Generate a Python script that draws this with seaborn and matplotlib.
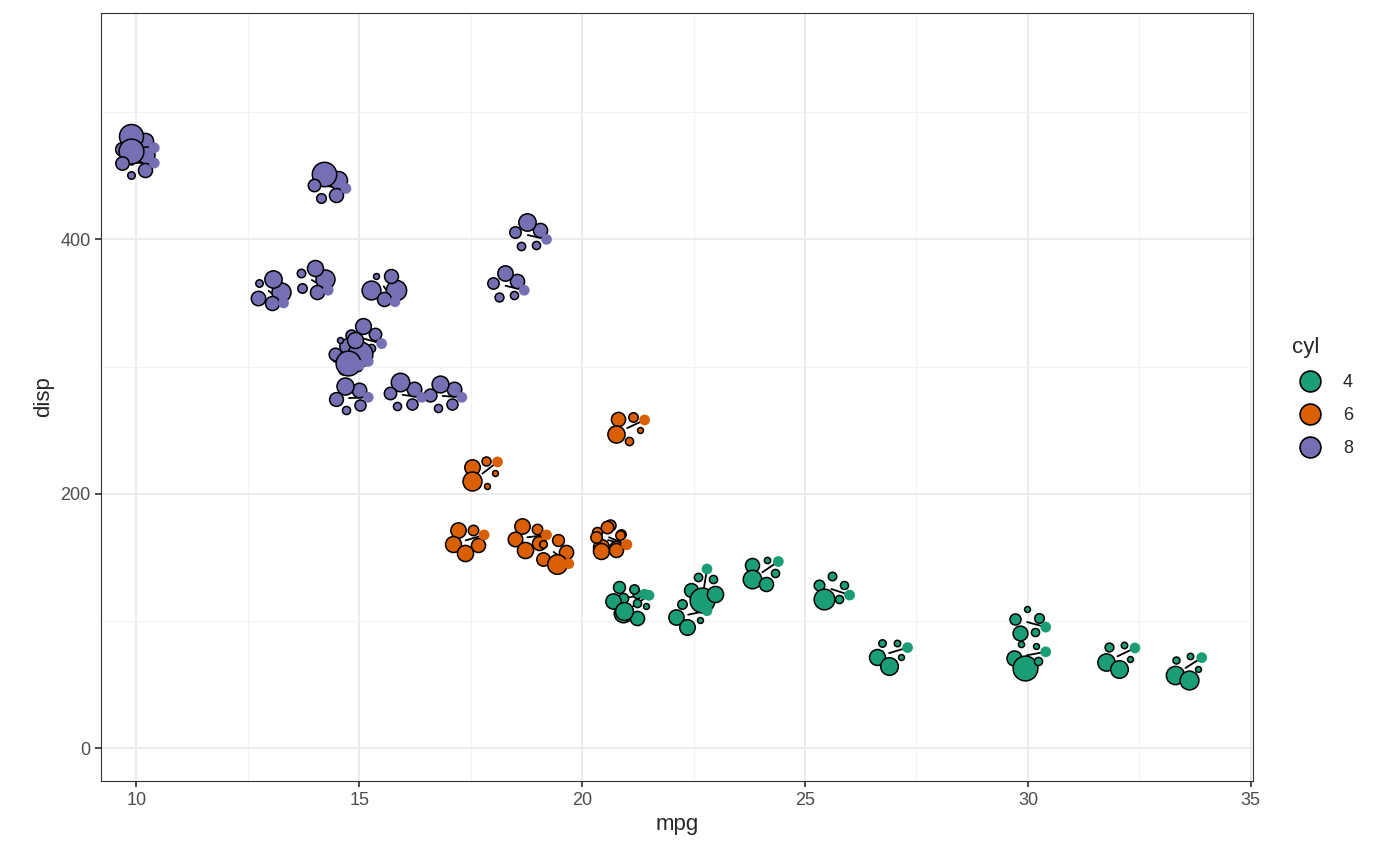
import numpy as np
import pandas as pd
import matplotlib.pyplot as plt
import seaborn as sns
from matplotlib.lines import Line2D

# mtcars values
mpg = [21, 21, 22.8, 21.4, 18.7, 18.1, 14.3, 24.4, 22.8, 19.2, 17.8, 16.4, 17.3, 15.2, 10.4, 10.4,
       14.7, 32.4, 30.4, 33.9, 21.5, 15.5, 15.2, 13.3, 19.2, 27.3, 26, 30.4, 15.8, 19.7, 15, 21.4]
cyl = [6, 6, 4, 6, 8, 6, 8, 4, 4, 6, 6, 8, 8, 8, 8, 8, 8, 4, 4, 4, 4, 8, 8, 8, 8, 4, 4, 4, 8, 6, 8, 4]
disp = [160, 160, 108, 258, 360, 225, 360, 146.7, 140.8, 167.6, 167.6, 275.8, 275.8, 275.8, 472, 460,
        440, 78.7, 75.7, 71.1, 120.1, 318, 304, 350, 400, 79, 120.3, 95.1, 351, 145, 301, 121]
hp = [110, 110, 93, 110, 175, 105, 245, 62, 95, 123, 123, 180, 180, 180, 205, 215, 230, 66, 52, 65,
      97, 150, 150, 245, 175, 66, 91, 113, 264, 175, 335, 109]
wt = [2.62, 2.875, 2.32, 3.215, 3.44, 3.46, 3.57, 3.19, 3.15, 3.44, 3.44, 4.07, 3.73, 3.78, 5.25, 5.424,
      5.345, 2.2, 1.615, 1.835, 2.465, 3.52, 3.435, 3.84, 3.845, 1.935, 2.14, 1.513, 3.17, 2.77, 3.57, 2.78]
qsec = [16.46, 17.02, 18.61, 19.44, 17.02, 20.22, 15.84, 20, 22.9, 18.3, 18.9, 17.4, 17.6, 18, 17.98, 17.82,
        17.42, 19.47, 18.52, 19.9, 20.01, 16.87, 17.3, 15.41, 17.05, 18.9, 16.7, 16.9, 14.5, 15.5, 14.6, 18.6]
drat = [3.9, 3.9, 3.85, 3.08, 3.15, 2.76, 3.21, 3.69, 3.92, 3.92, 3.92, 3.07, 3.07, 3.07, 2.93, 3, 3.23,
        4.08, 4.93, 4.22, 3.7, 2.76, 3.15, 3.73, 3.08, 4.08, 4.43, 3.77, 4.22, 3.62, 3.54, 4.11]
carb = [4, 4, 1, 1, 2, 1, 4, 2, 2, 4, 4, 3, 3, 3, 4, 4, 4, 1, 2, 1, 1, 2, 2, 4, 2, 1, 2, 2, 4, 6, 8, 2]

palette = {4: '#1B9E77', 6: '#D95F02', 8: '#7570B3'}

df = pd.DataFrame({'mpg': mpg, 'disp': disp, 'cyl': cyl, 'hp': hp, 'wt': wt,
                   'qsec': qsec, 'drat': drat, 'carb': carb})

sns.set_theme(style='whitegrid')
plt.rcParams['font.family'] = ['Liberation Sans', 'DejaVu Sans']

fig, ax = plt.subplots(figsize=(14, 8.66), dpi=100)

# glyph geometry in data units (x: mpg, y: disp)
sx, sy = 0.36, 12.5
glyph_vars = ['hp', 'wt', 'qsec', 'drat', 'carb']
norm = {v: (df[v] - df[v].min()) / (df[v].max() - df[v].min()) for v in glyph_vars}

for i, row in df.iterrows():
    col = palette[row['cyl']]
    ang = np.pi * (0.7 + 0.75 * norm['qsec'][i])
    cx = row['mpg'] + 1.2 * sx * np.cos(ang)
    cy = row['disp'] + 1.2 * sy * np.sin(ang)
    ax.plot([row['mpg'], cx], [row['disp'], cy], color='black', lw=1.3, zorder=2)
    for k, v in enumerate(glyph_vars):
        a = ang + np.pi + 2 * np.pi * k / len(glyph_vars) + np.pi / 5
        px = cx + 0.8 * sx * np.cos(a)
        py = cy + 0.8 * sy * np.sin(a)
        s = 18 + 300 * norm[v][i] ** 1.5
        ax.scatter(px, py, s=s, color=col, edgecolor='black', linewidth=1.1, zorder=3)

sns.scatterplot(data=df, x='mpg', y='disp', hue='cyl', palette=palette, s=60,
                edgecolor='none', legend=False, ax=ax, zorder=4)

ax.set_xlim(9.2, 35.05)
ax.set_ylim(-26, 578)
ax.set_xticks([10, 15, 20, 25, 30, 35])
ax.set_yticks([0, 200, 400])
ax.set_xticks([12.5, 17.5, 22.5, 27.5, 32.5], minor=True)
ax.set_yticks([100, 300, 500], minor=True)
ax.grid(True, which='major', color='#EBEBEB', lw=1.4)
ax.grid(True, which='minor', color='#F2F2F2', lw=0.8)
for sp in ax.spines.values():
    sp.set_color('#333333')
    sp.set_linewidth(0.8)
ax.tick_params(axis='both', which='major', labelsize=13, colors='#4D4D4D', length=4,
               left=True, bottom=True, color='#333333')
ax.tick_params(which='minor', length=0)
ax.set_xlabel('mpg', fontsize=16)
ax.set_ylabel('disp', fontsize=16)

handles = [Line2D([], [], marker='o', ls='none', markersize=15, markerfacecolor=palette[c],
                  markeredgecolor='black', markeredgewidth=1.2) for c in [4, 6, 8]]
leg = ax.legend(handles, ['4', '6', '8'], title='cyl', loc='center left',
                bbox_to_anchor=(1.02, 0.5), frameon=False, fontsize=13,
                title_fontsize=16, labelspacing=0.9, handletextpad=0.8)
leg._legend_box.align = 'left'

fig.subplots_adjust(left=0.072, right=0.895, top=0.985, bottom=0.098)
fig.savefig('out.png', dpi=100)
